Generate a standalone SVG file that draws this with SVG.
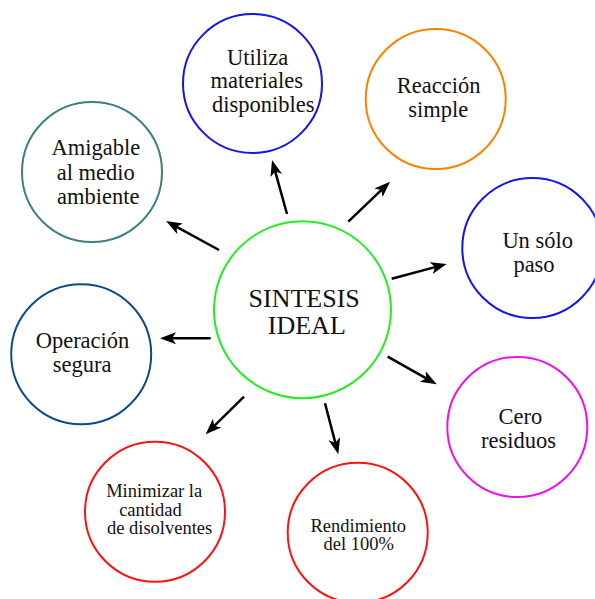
<svg xmlns="http://www.w3.org/2000/svg" width="595" height="599" viewBox="0 0 595 599">
<style>
.n{fill:none;stroke-width:2}
text{fill:#111;text-anchor:middle}
.l{font-size:22.5px}
.s{font-size:18.5px}
.c{font-size:26px}
.a{stroke:#000;stroke-width:2.5;fill:none;marker-end:url(#ah)}
</style>
<defs>
<marker id="ah" markerUnits="userSpaceOnUse" viewBox="-8 -7 20 14" markerWidth="20" markerHeight="14" refX="0" refY="0" orient="auto">
<path d="M10 0 L-6 -6 L-2 0 L-6 6 Z" fill="#000"/>
</marker>
</defs>
<rect width="595" height="599" fill="#fff"/>
<g font-family="Liberation Serif, Times New Roman, serif">
<g id="connectors">
<line class="a" x1="219" y1="250" x2="174.8" y2="225.8"/>
<line class="a" x1="287" y1="214" x2="274.7" y2="169.6"/>
<line class="a" x1="348.3" y1="221.7" x2="382.8" y2="188.6"/>
<line class="a" x1="391.7" y1="278.7" x2="437" y2="266.6"/>
<line class="a" x1="387.7" y1="356.7" x2="428" y2="379.4"/>
<line class="a" x1="325" y1="403.3" x2="335.8" y2="444.6"/>
<line class="a" x1="244" y1="396.7" x2="212.8" y2="427.3"/>
<line class="a" x1="210.7" y1="338.3" x2="170" y2="338.3"/>
</g>
<g id="center">
<circle class="n" cx="302.5" cy="309.7" r="88.5" stroke="#22ee22"/>
<text class="c" x="304.2" y="306.7">SINTESIS</text>
<text class="c" x="306.8" y="334">IDEAL</text>
</g>
<g id="utiliza">
<circle class="n" cx="252.5" cy="83.5" r="69.5" stroke="#1414ee"/>
<text class="l" x="257.7" y="65">Utiliza</text>
<text class="l" x="256.7" y="88.4">materiales</text>
<text class="l" x="263.3" y="111.8">disponibles</text>
</g>
<g id="reaccion">
<circle class="n" cx="435.7" cy="99" r="70" stroke="#ff8000"/>
<text class="l" x="438.7" y="92.7">Reacción</text>
<text class="l" x="438.3" y="116.7">simple</text>
</g>
<g id="unsolo">
<circle class="n" cx="532.3" cy="248" r="70" stroke="#1414ee"/>
<text class="l" x="537.7" y="248.3">Un sólo</text>
<text class="l" x="534" y="271.9">paso</text>
</g>
<g id="cero">
<circle class="n" cx="517.3" cy="427" r="70" stroke="#ee11ee"/>
<text class="l" x="520.3" y="424.3">Cero</text>
<text class="l" x="518.5" y="447.9">residuos</text>
</g>
<g id="rendimiento">
<circle class="n" cx="357.7" cy="532.7" r="70" stroke="#ff1111"/>
<text class="s" x="358.3" y="531.5">Rendimiento</text>
<text class="s" x="358.8" y="550.2">del 100%</text>
</g>
<g id="minimizar">
<circle class="n" cx="155" cy="511.7" r="70" stroke="#ff1111"/>
<text class="s" x="154.2" y="497.4">Minimizar la</text>
<text class="s" x="150.5" y="515.8">cantidad</text>
<text class="s" x="159.6" y="534.2">de disolventes</text>
</g>
<g id="operacion">
<circle class="n" cx="81.2" cy="354.2" r="70" stroke="#0a4a88"/>
<text class="l" x="82.5" y="348.3">Operación</text>
<text class="l" x="82.2" y="372.3">segura</text>
</g>
<g id="amigable">
<circle class="n" cx="92" cy="172" r="70" stroke="#3d8080"/>
<text class="l" x="95.8" y="155">Amigable</text>
<text class="l" x="95.8" y="180">al medio</text>
<text class="l" x="98.3" y="204">ambiente</text>
</g>
</g>
</svg>
